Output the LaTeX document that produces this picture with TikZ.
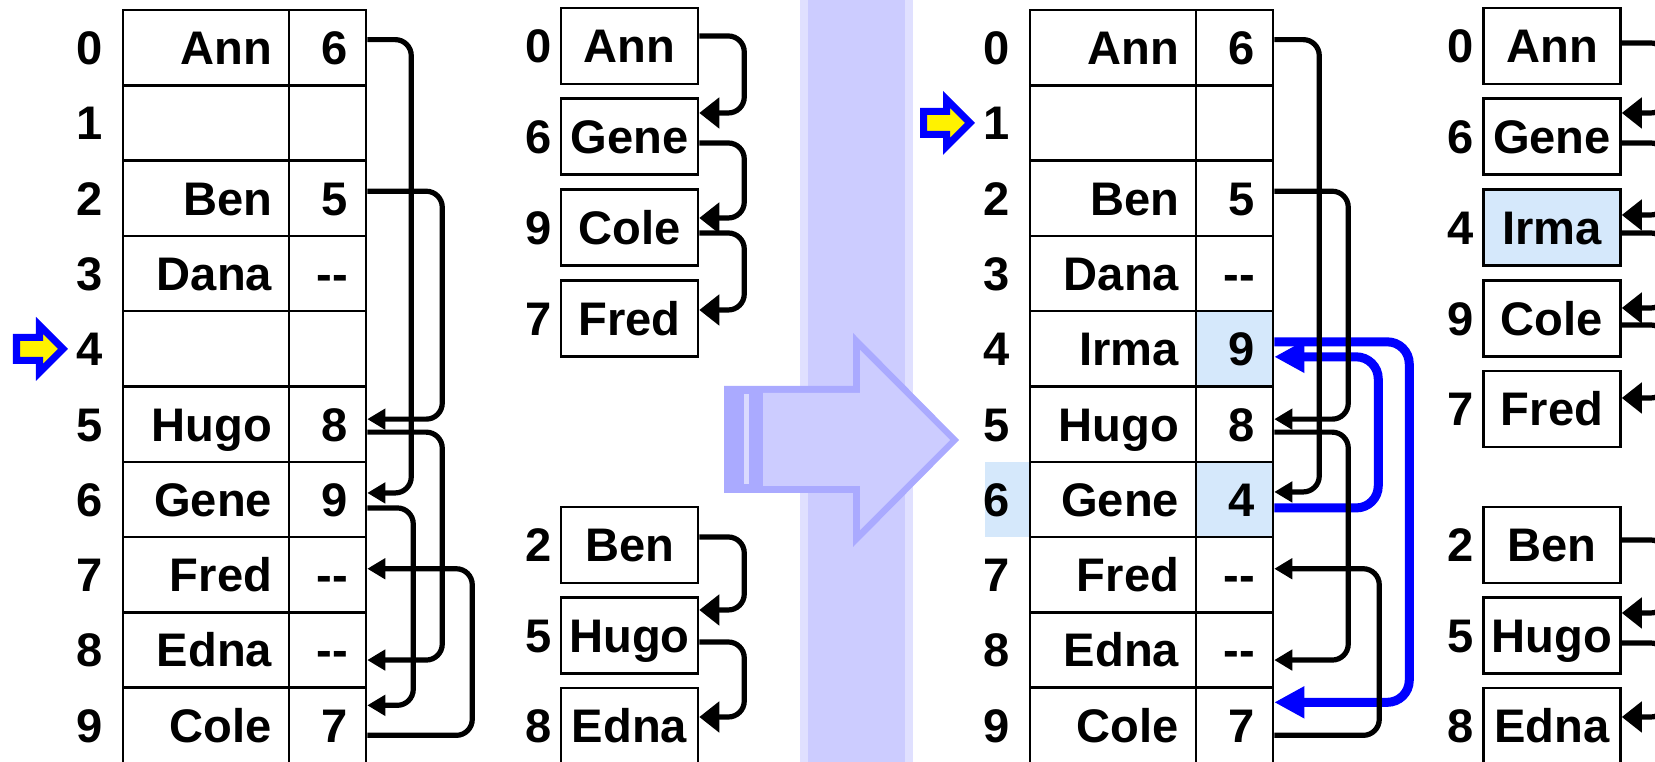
\documentclass[tikz,border=0pt]{standalone}
\usepackage{fontspec}
\setmainfont{Liberation Sans}
\usetikzlibrary{arrows.meta}
\definecolor{bandlight}{HTML}{E0E0FF}
\definecolor{bandmid}{HTML}{CCCCFF}
\definecolor{banddark}{HTML}{AAAAFF}
\definecolor{bandstripe}{HTML}{DADAFF}
\definecolor{newcell}{HTML}{D5E8FB}
\tikzset{
    lbl/.style={font=\fontsize{13.4}{16}\selectfont\bfseries, inner sep=0pt, text height=9.6pt, text depth=0pt},
    namecell/.style={lbl, draw, line width=0.7pt, minimum width=1.66cm, minimum height=0.753cm, text width=1.32cm, align=right},
    nextcell/.style={lbl, draw, line width=0.7pt, minimum width=0.77cm, minimum height=0.753cm, text width=0.41cm, align=right},
    item/.style={lbl, draw, line width=0.7pt, minimum width=1.37cm, minimum height=0.76cm},
    pointer/.style={draw=blue, fill=yellow, line width=0.07cm, line join=miter},
    link/.style={line width=0.052cm, rounded corners=0.16cm, -{Triangle[length=0.18cm, width=0.2cm]}},
    listlink/.style={link, -{Triangle[length=0.2cm, width=0.3cm]}},
    newlink/.style={link, blue, line width=0.09cm, rounded corners=0.22cm, -{Triangle[length=0.3cm, width=0.3cm]}}
}

\begin{document}
\begin{tikzpicture}[x=0.01cm, y=-0.01cm]
    \useasboundingbox (0,0) rectangle (1655,762);
    \clip (0,0) rectangle (1655,762);

    \fill[bandlight] (800,0) rectangle (913,762);
    \fill[bandmid] (808,0) rectangle (905,762);
    \fill[banddark] (724,386) -- (853,386) -- (853,333) -- (959,440) -- (853,547) -- (853,493) -- (724,493) -- cycle;
    \fill[bandmid] (763,393) -- (860,393) -- (860,350) -- (950,440) -- (860,530) -- (860,486) -- (763,486) -- cycle;
    \fill[bandstripe] (744,394) rectangle (749,484);

    \begin{scope}
      \draw[pointer, shift={(63,348.85)}] (0,0) -- (-23.5,-23.5) -- (-23.5,-11.5) -- (-46.5,-11.5) -- (-46.5,11.5) -- (-23.5,11.5) -- (-23.5,23.5) -- cycle;

      \node[lbl] (ai0) at (90,47.65) {0};
      \node[namecell] (an0) at (206,47.65) {Ann};
      \node[nextcell] (av0) at (327.5,47.65) {6};

      \node[lbl] (ai1) at (90,122.95) {1};
      \node[namecell] (an1) at (206,122.95) {};
      \node[nextcell] (av1) at (327.5,122.95) {};

      \node[lbl] (ai2) at (90,198.25) {2};
      \node[namecell] (an2) at (206,198.25) {Ben};
      \node[nextcell] (av2) at (327.5,198.25) {5};

      \node[lbl] (ai3) at (90,273.55) {3};
      \node[namecell] (an3) at (206,273.55) {Dana};
      \node[nextcell] (av3) at (327.5,273.55) {{-}{-}};

      \node[lbl] (ai4) at (90,348.85) {4};
      \node[namecell] (an4) at (206,348.85) {};
      \node[nextcell] (av4) at (327.5,348.85) {};

      \node[lbl] (ai5) at (90,424.15) {5};
      \node[namecell] (an5) at (206,424.15) {Hugo};
      \node[nextcell] (av5) at (327.5,424.15) {8};

      \node[lbl] (ai6) at (90,499.45) {6};
      \node[namecell] (an6) at (206,499.45) {Gene};
      \node[nextcell] (av6) at (327.5,499.45) {9};

      \node[lbl] (ai7) at (90,574.75) {7};
      \node[namecell] (an7) at (206,574.75) {Fred};
      \node[nextcell] (av7) at (327.5,574.75) {{-}{-}};

      \node[lbl] (ai8) at (90,650.05) {8};
      \node[namecell] (an8) at (206,650.05) {Edna};
      \node[nextcell] (av8) at (327.5,650.05) {{-}{-}};

      \node[lbl] (ai9) at (90,725.35) {9};
      \node[namecell] (an9) at (206,725.35) {Cole};
      \node[nextcell] (av9) at (327.5,725.35) {7};

      \draw[link] ([yshift=0.08cm]av0.east) -- ++(44,0) |- ([yshift=0.065cm]av6.east);
      \draw[link] ([yshift=0.07cm]av2.east) -- ++(75,0) |- ([yshift=0.05cm]av5.east);
      \draw[link] ([yshift=-0.08cm]av5.east) -- ++(75,0) |- ([yshift=-0.1cm]av8.east);
      \draw[link] ([yshift=-0.085cm]av6.east) -- ++(46,0) |- ([yshift=0.2cm]av9.east);
      \draw[link] ([yshift=-0.1cm]av9.east) -- ++(105,0) |- ([yshift=0.06cm]av7.east);
    \end{scope}

    \begin{scope}
      \node[lbl] (k1ann) at (539,46) {0};
      \node[item] (c1ann) at (629.5,46) {Ann};

      \node[lbl] (k1gene) at (539,136.5) {6};
      \node[item] (c1gene) at (629.5,136.5) {Gene};

      \node[lbl] (k1cole) at (539,227.5) {9};
      \node[item] (c1cole) at (629.5,227.5) {Cole};

      \node[lbl] (k1fred) at (539,318.5) {7};
      \node[item] (c1fred) at (629.5,318.5) {Fred};

      \node[lbl] (k1ben) at (539,545) {2};
      \node[item] (c1ben) at (629.5,545) {Ben};

      \node[lbl] (k1hugo) at (539,635.5) {5};
      \node[item] (c1hugo) at (629.5,635.5) {Hugo};

      \node[lbl] (k1edna) at (539,726) {8};
      \node[item] (c1edna) at (629.5,726) {Edna};

      \draw[listlink] ([yshift=0.1cm]c1ann.east) -- ++(45,0) |- ([yshift=0.235cm]c1gene.east);
      \draw[listlink] ([yshift=-0.065cm]c1gene.east) -- ++(45,0) |- ([yshift=0.095cm]c1cole.east);
      \draw[listlink] ([yshift=-0.055cm]c1cole.east) -- ++(45,0) |- ([yshift=0.085cm]c1fred.east);
      \draw[listlink] ([yshift=0.08cm]c1ben.east) -- ++(45,0) |- ([yshift=0.255cm]c1hugo.east);
      \draw[listlink] ([yshift=-0.065cm]c1hugo.east) -- ++(45,0) |- ([yshift=0.09cm]c1edna.east);
    \end{scope}

    \begin{scope}
      \draw[pointer, shift={(970,122.95)}] (0,0) -- (-23.5,-23.5) -- (-23.5,-11.5) -- (-46.5,-11.5) -- (-46.5,11.5) -- (-23.5,11.5) -- (-23.5,23.5) -- cycle;
      \fill[newcell] (985,462) rectangle (1030,537.3);

      \node[lbl] (bi0) at (997,47.65) {0};
      \node[namecell] (bn0) at (1113,47.65) {Ann};
      \node[nextcell] (bv0) at (1234.5,47.65) {6};

      \node[lbl] (bi1) at (997,122.95) {1};
      \node[namecell] (bn1) at (1113,122.95) {};
      \node[nextcell] (bv1) at (1234.5,122.95) {};

      \node[lbl] (bi2) at (997,198.25) {2};
      \node[namecell] (bn2) at (1113,198.25) {Ben};
      \node[nextcell] (bv2) at (1234.5,198.25) {5};

      \node[lbl] (bi3) at (997,273.55) {3};
      \node[namecell] (bn3) at (1113,273.55) {Dana};
      \node[nextcell] (bv3) at (1234.5,273.55) {{-}{-}};

      \node[lbl] (bi4) at (997,348.85) {4};
      \node[namecell] (bn4) at (1113,348.85) {Irma};
      \node[nextcell, fill=newcell] (bv4) at (1234.5,348.85) {9};

      \node[lbl] (bi5) at (997,424.15) {5};
      \node[namecell] (bn5) at (1113,424.15) {Hugo};
      \node[nextcell] (bv5) at (1234.5,424.15) {8};

      \node[lbl] (bi6) at (997,499.45) {6};
      \node[namecell] (bn6) at (1113,499.45) {Gene};
      \node[nextcell, fill=newcell] (bv6) at (1234.5,499.45) {4};

      \node[lbl] (bi7) at (997,574.75) {7};
      \node[namecell] (bn7) at (1113,574.75) {Fred};
      \node[nextcell] (bv7) at (1234.5,574.75) {{-}{-}};

      \node[lbl] (bi8) at (997,650.05) {8};
      \node[namecell] (bn8) at (1113,650.05) {Edna};
      \node[nextcell] (bv8) at (1234.5,650.05) {{-}{-}};

      \node[lbl] (bi9) at (997,725.35) {9};
      \node[namecell] (bn9) at (1113,725.35) {Cole};
      \node[nextcell] (bv9) at (1234.5,725.35) {7};

      \draw[newlink] ([yshift=-0.085cm]bv6.east) -- ++(104,0) |- ([yshift=-0.08cm]bv4.east);
      \draw[newlink] ([yshift=0.07cm]bv4.east) -- ++(135,0) |- ([yshift=0.23cm]bv9.east);
      \draw[link] ([yshift=0.08cm]bv0.east) -- ++(45,0) |- ([yshift=0.075cm]bv6.east);
      \draw[link] ([yshift=0.07cm]bv2.east) -- ++(74,0) |- ([yshift=0.05cm]bv5.east);
      \draw[link] ([yshift=-0.08cm]bv5.east) -- ++(74,0) |- ([yshift=-0.1cm]bv8.east);
      \draw[link] ([yshift=-0.1cm]bv9.east) -- ++(105,0) |- ([yshift=0.06cm]bv7.east);
    \end{scope}

    \begin{scope}
      \node[lbl] (k2ann) at (1461,46) {0};
      \node[item] (c2ann) at (1552,46) {Ann};

      \node[lbl] (k2gene) at (1461,136.5) {6};
      \node[item] (c2gene) at (1552,136.5) {Gene};

      \node[lbl] (k2irma) at (1461,227.5) {4};
      \node[item, fill=newcell] (c2irma) at (1552,227.5) {Irma};

      \node[lbl] (k2cole) at (1461,318.5) {9};
      \node[item] (c2cole) at (1552,318.5) {Cole};

      \node[lbl] (k2fred) at (1461,409) {7};
      \node[item] (c2fred) at (1552,409) {Fred};

      \node[lbl] (k2ben) at (1461,545) {2};
      \node[item] (c2ben) at (1552,545) {Ben};

      \node[lbl] (k2hugo) at (1461,635.5) {5};
      \node[item] (c2hugo) at (1552,635.5) {Hugo};

      \node[lbl] (k2edna) at (1461,726) {8};
      \node[item] (c2edna) at (1552,726) {Edna};

      \draw[listlink] ([yshift=0.03cm]c2ann.east) -- ++(45,0) |- ([yshift=0.235cm]c2gene.east);
      \draw[listlink] ([yshift=-0.065cm]c2gene.east) -- ++(45,0) |- ([yshift=0.125cm]c2irma.east);
      \draw[listlink] ([yshift=-0.055cm]c2irma.east) -- ++(45,0) |- ([yshift=0.105cm]c2cole.east);
      \draw[listlink] ([yshift=-0.065cm]c2cole.east) -- ++(45,0) |- ([yshift=0.11cm]c2fred.east);
      \draw[listlink] ([yshift=0.05cm]c2ben.east) -- ++(45,0) |- ([yshift=0.225cm]c2hugo.east);
      \draw[listlink] ([yshift=-0.075cm]c2hugo.east) -- ++(45,0) |- ([yshift=0.09cm]c2edna.east);
    \end{scope}
\end{tikzpicture}
\end{document}
